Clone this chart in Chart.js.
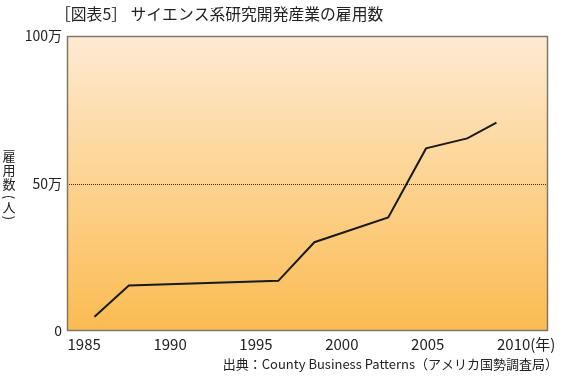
<!DOCTYPE html>
<html><head><meta charset="utf-8">
<script src="https://cdn.jsdelivr.net/npm/chart.js@4.4.1/dist/chart.umd.min.js"></script>
<style>html,body{margin:0;padding:0;background:#fff;}</style>
</head><body><canvas id="c" width="580" height="386"></canvas>
<script>
const chartTitle = '［図表5］ サイエンス系研究開発産業の雇用数';
const yAxisTitle = '雇用数(人)';
const xUnit = '(年)';
const sourceNote = '出典：County Business Patterns（アメリカ国勢調査局）';
const years = [1985.6, 1987.6, 1996.3, 1998.4, 2002.7, 2004.9, 2007.3, 2009.0];
const employment = [48000, 154000, 170000, 301000, 385000, 619000, 653000, 706000];
const xTicks = [1985, 1990, 1995, 2000, 2005, 2010];
const yTicks = [0, 500000, 1000000];
const yTickLabels = ['0', '50万', '100万'];

const FONT = '"Noto Sans CJK JP", "Noto Sans", sans-serif';

const deco = {
  id: 'deco',
  beforeDatasetsDraw(chart) {
    const {ctx, chartArea: a, scales: {y}} = chart;
    ctx.save();
    const g = ctx.createLinearGradient(0, a.top, 0, a.bottom);
    g.addColorStop(0, '#FEEAD3');
    g.addColorStop(0.5, '#FDD390');
    g.addColorStop(1, '#FBBB52');
    ctx.fillStyle = g;
    ctx.fillRect(a.left, a.top, a.right - a.left, a.bottom - a.top);
    const gy = Math.round(y.getPixelForValue(500000)) + 0.5;
    ctx.strokeStyle = '#3a3020';
    ctx.lineWidth = 1;
    ctx.setLineDash([1, 1]);
    ctx.beginPath(); ctx.moveTo(a.left, gy); ctx.lineTo(a.right, gy); ctx.stroke();
    ctx.setLineDash([]);
    ctx.strokeStyle = '#7f776a';
    ctx.lineWidth = 1.5;
    ctx.strokeRect(a.left + 0.5, a.top + 0.5, a.right - a.left - 1, a.bottom - a.top - 1);
    ctx.restore();
  },
  afterDraw(chart) {
    const {ctx, scales: {x}} = chart;
    ctx.save();
    ctx.fillStyle = '#222';
    // title
    ctx.font = '15.8px ' + FONT;
    ctx.textBaseline = 'middle';
    ctx.textAlign = 'left';
    ctx.fillText(chartTitle, 55, 14);
    // y axis title, vertical
    ctx.font = '13px ' + FONT;
    ctx.textAlign = 'center';
    const chars = Array.from(yAxisTitle);
    const ys = [156, 170, 184, 197, 207, 218];
    chars.forEach((ch, i) => {
      const cy = ys[i];
      if (ch === '(' || ch === ')') {
        ctx.save();
        ctx.translate(9, cy);
        ctx.rotate(Math.PI / 2);
        ctx.fillText(ch, 0, 0);
        ctx.restore();
      } else {
        ctx.fillText(ch, 9, cy);
      }
    });
    // x unit after last tick
    ctx.font = '15px ' + FONT;
    const last = xTicks[xTicks.length - 1];
    const lx = x.getPixelForValue(last) + ctx.measureText(String(last)).width / 2;
    ctx.textAlign = 'left';
    ctx.fillText(xUnit, lx, 344);
    // source
    ctx.font = '13px ' + FONT;
    ctx.textAlign = 'right';
    ctx.fillText(sourceNote, 558, 364);
    ctx.restore();
  }
};

new Chart(document.getElementById('c'), {
  type: 'line',
  data: {
    datasets: [{
      data: years.map((yr, i) => ({x: yr, y: employment[i]})),
      borderColor: '#1a1a1a',
      borderWidth: 2,
      pointRadius: 0,
      tension: 0,
      fill: false
    }]
  },
  plugins: [deco],
  options: {
    responsive: false,
    animation: false,
    devicePixelRatio: 1,
    layout: {padding: {left: 0, top: 36, right: 32, bottom: 25}},
    plugins: {legend: {display: false}, tooltip: {enabled: false}, title: {display: false}},
    scales: {
      x: {
        type: 'linear', min: 1984, max: 2012,
        afterBuildTicks: s => { s.ticks = xTicks.map(v => ({value: v})); },
        afterFit: s => { s.height = 30; },
        grid: {display: false, drawTicks: false},
        border: {display: false},
        ticks: {color: '#222', font: {family: FONT, size: 15}, padding: 4, maxRotation: 0, autoSkip: false,
          callback: v => String(v)}
      },
      y: {
        min: 0, max: 1000000,
        afterBuildTicks: s => { s.ticks = yTicks.map(v => ({value: v})); },
        afterFit: s => { s.width = 67; },
        grid: {display: false, drawTicks: false},
        border: {display: false},
        ticks: {color: '#222', font: {family: FONT, size: 14}, padding: 5,
          callback: v => yTickLabels[yTicks.indexOf(v)]}
      }
    }
  }
});
</script></body></html>
